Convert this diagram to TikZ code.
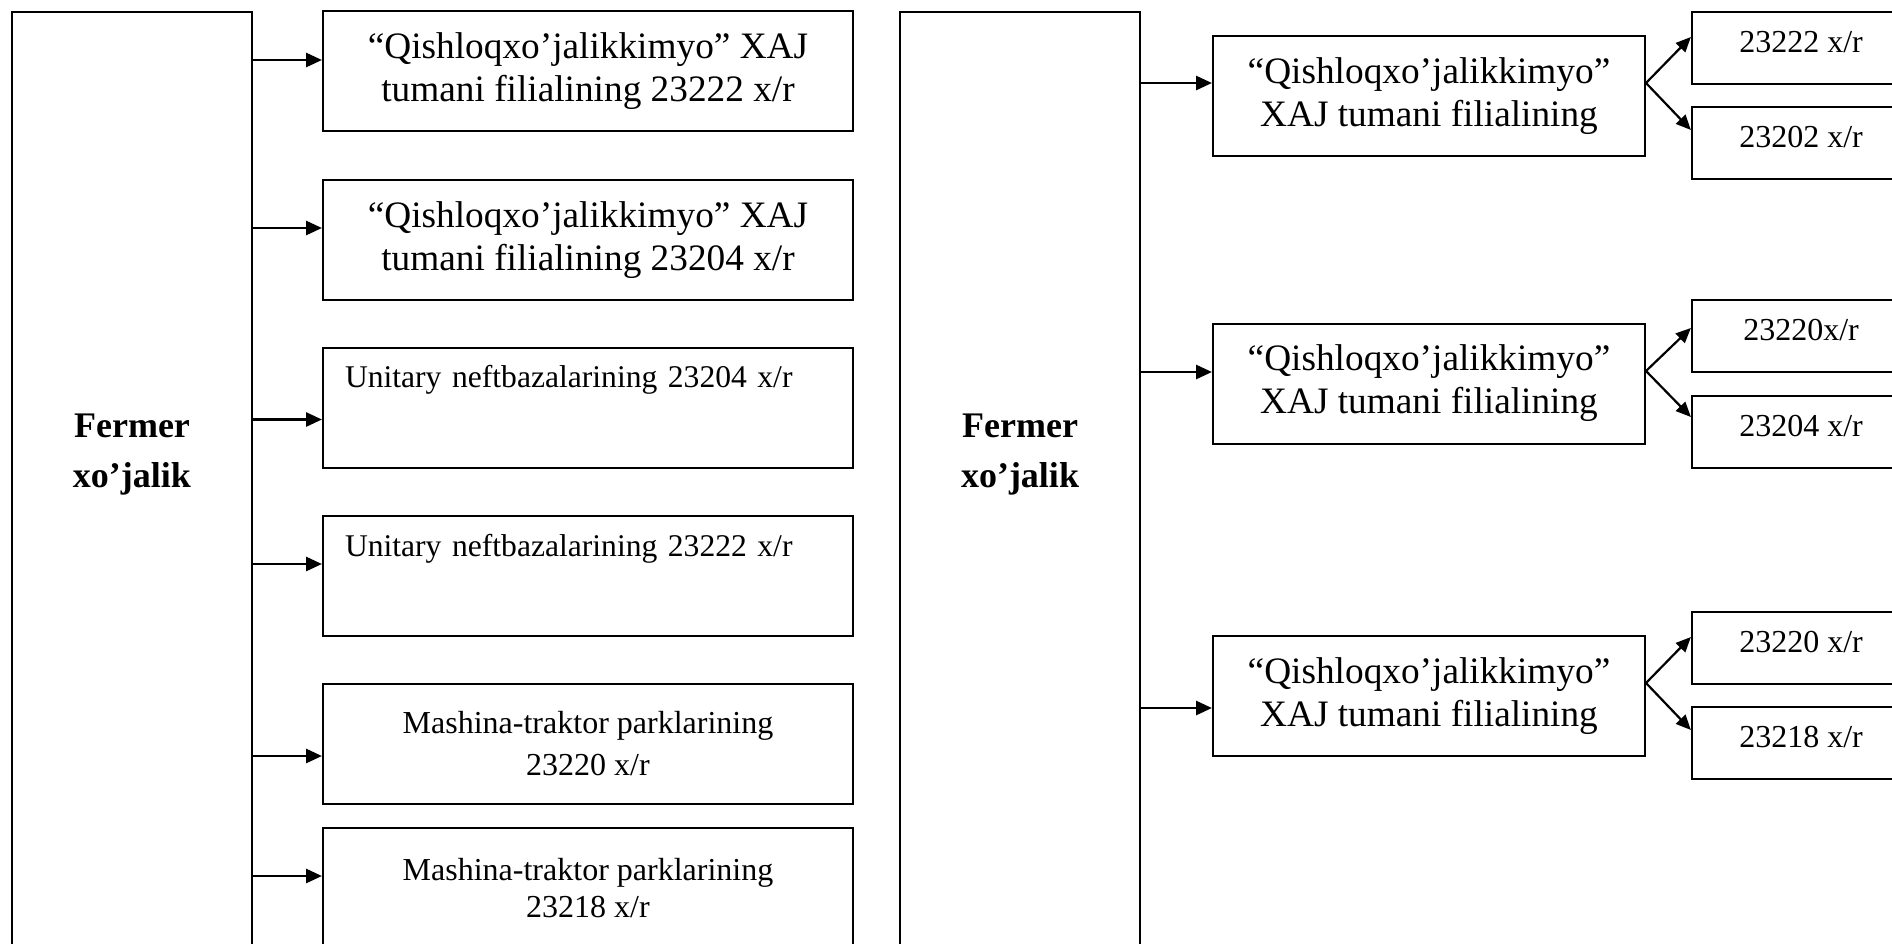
\documentclass[tikz,border=0pt]{standalone}
\usepackage{fontspec}
\setmainfont{Liberation Serif}
\usetikzlibrary{arrows.meta}
\begin{document}
\begin{tikzpicture}[x=1pt,y=-1pt,
  bigbox/.style={draw,line width=1.6pt,minimum width=240pt,minimum height=988pt,inner sep=0pt},
  fermer/.style={font=\bfseries\fontsize{36}{50}\selectfont,align=center,inner sep=0pt},
  qbox/.style={draw,line width=2pt,inner sep=0pt,align=center,minimum width=530pt,minimum height=120pt,font=\fontsize{37.3}{43}\selectfont},
  ubox/.style={draw,line width=2pt,inner xsep=22pt,inner ysep=0pt,text width=486pt,align=left,text height=40pt,text depth=80pt,font=\fontsize{31.6}{37}\selectfont},
  mbox/.style={draw,line width=2pt,inner sep=0pt,align=center,minimum width=530pt,minimum height=120pt},
  midbox/.style={draw,line width=2pt,inner sep=0pt,align=center,minimum width=432pt,minimum height=120pt,font=\fontsize{37.3}{43}\selectfont},
  sbox/.style={draw,line width=2.2pt,inner sep=0pt,minimum width=218pt,text height=40pt,text depth=32pt,font=\fontsize{32}{37}\selectfont},
  arr/.style={line width=2.8pt,-{Triangle[length=16pt,width=14pt]}},
  farr/.style={line width=2.2pt,-{Triangle[length=15pt,width=13pt]}}
]
\useasboundingbox (0,0) rectangle (1892,943);
\clip (0,0) rectangle (1892,943);
\fill[white] (0,0) rectangle (1892,943);

% ---------- left part ----------
\node[bigbox] (fl) at (132,506) {};
\node[fermer] (flt) at (132,455) {Fermer\\xo’jalik};

\node[qbox] (b1) at (588,71) {“Qishloqxo’jalikkimyo” XAJ\\tumani filialining 23222 x/r};
\node[qbox] (b2) at (588,240) {“Qishloqxo’jalikkimyo” XAJ\\tumani filialining 23204 x/r};
\node[ubox] (b3) at (588,407.5) {Unitary neftbazalarining 23204 x/r};
\node[ubox] (b4) at (588,576) {Unitary neftbazalarining 23222 x/r};
\node[mbox,font=\fontsize{32}{42}\selectfont] (b5) at (588,744) {Mashina-traktor parklarining\\23220 x/r};
\node[mbox,font=\fontsize{32}{37}\selectfont] (b6) at (588,888) {Mashina-traktor parklarining\\23218 x/r};

\draw[arr] ([yshift=11pt]fl.east |- b1.west) -- ([yshift=11pt]b1.west);
\draw[arr] ([yshift=12pt]fl.east |- b2.west) -- ([yshift=12pt]b2.west);
\draw[arr] ([yshift=-12pt]fl.east |- b3.west) -- ([yshift=-12pt]b3.west);
\draw[arr] ([yshift=12pt]fl.east |- b4.west) -- ([yshift=12pt]b4.west);
\draw[arr] ([yshift=-12pt]fl.east |- b5.west) -- ([yshift=-12pt]b5.west);
\draw[arr] ([yshift=12pt]fl.east |- b6.west) -- ([yshift=12pt]b6.west);

% ---------- right part ----------
\node[bigbox] (fr) at (1020,506) {};
\node[fermer] (frt) at (1020,455) {Fermer\\xo’jalik};

\node[midbox] (ma) at (1429,96) {“Qishloqxo’jalikkimyo”\\XAJ tumani filialining};
\node[midbox] (mb) at (1429,383.5) {“Qishloqxo’jalikkimyo”\\XAJ tumani filialining};
\node[midbox] (mc) at (1429,696) {“Qishloqxo’jalikkimyo”\\XAJ tumani filialining};

\node[sbox] (a1) at (1801,48) {23222 x/r};
\node[sbox] (a2) at (1801,143) {23202 x/r};
\node[sbox] (c1) at (1801,336) {23220x/r};
\node[sbox] (c2) at (1801,432) {23204 x/r};
\node[sbox] (d1) at (1801,648) {23220 x/r};
\node[sbox] (d2) at (1801,743) {23218 x/r};

\draw[arr] ([yshift=13pt]fr.east |- ma.west) -- ([yshift=13pt]ma.west);
\draw[arr] ([yshift=11.5pt]fr.east |- mb.west) -- ([yshift=11.5pt]mb.west);
\draw[arr] ([yshift=-12pt]fr.east |- mc.west) -- ([yshift=-12pt]mc.west);

\draw[farr] ([yshift=13pt]ma.east) -- ([yshift=11pt]a1.west);
\draw[farr] ([yshift=13pt]ma.east) -- ([yshift=13pt]a2.west);
\draw[farr] ([yshift=12.5pt]mb.east) -- ([yshift=8pt]c1.west);
\draw[farr] ([yshift=12.5pt]mb.east) -- ([yshift=15pt]c2.west);
\draw[farr] ([yshift=13pt]mc.east) -- ([yshift=11pt]d1.west);
\draw[farr] ([yshift=13pt]mc.east) -- ([yshift=13pt]d2.west);
\end{tikzpicture}
\end{document}
